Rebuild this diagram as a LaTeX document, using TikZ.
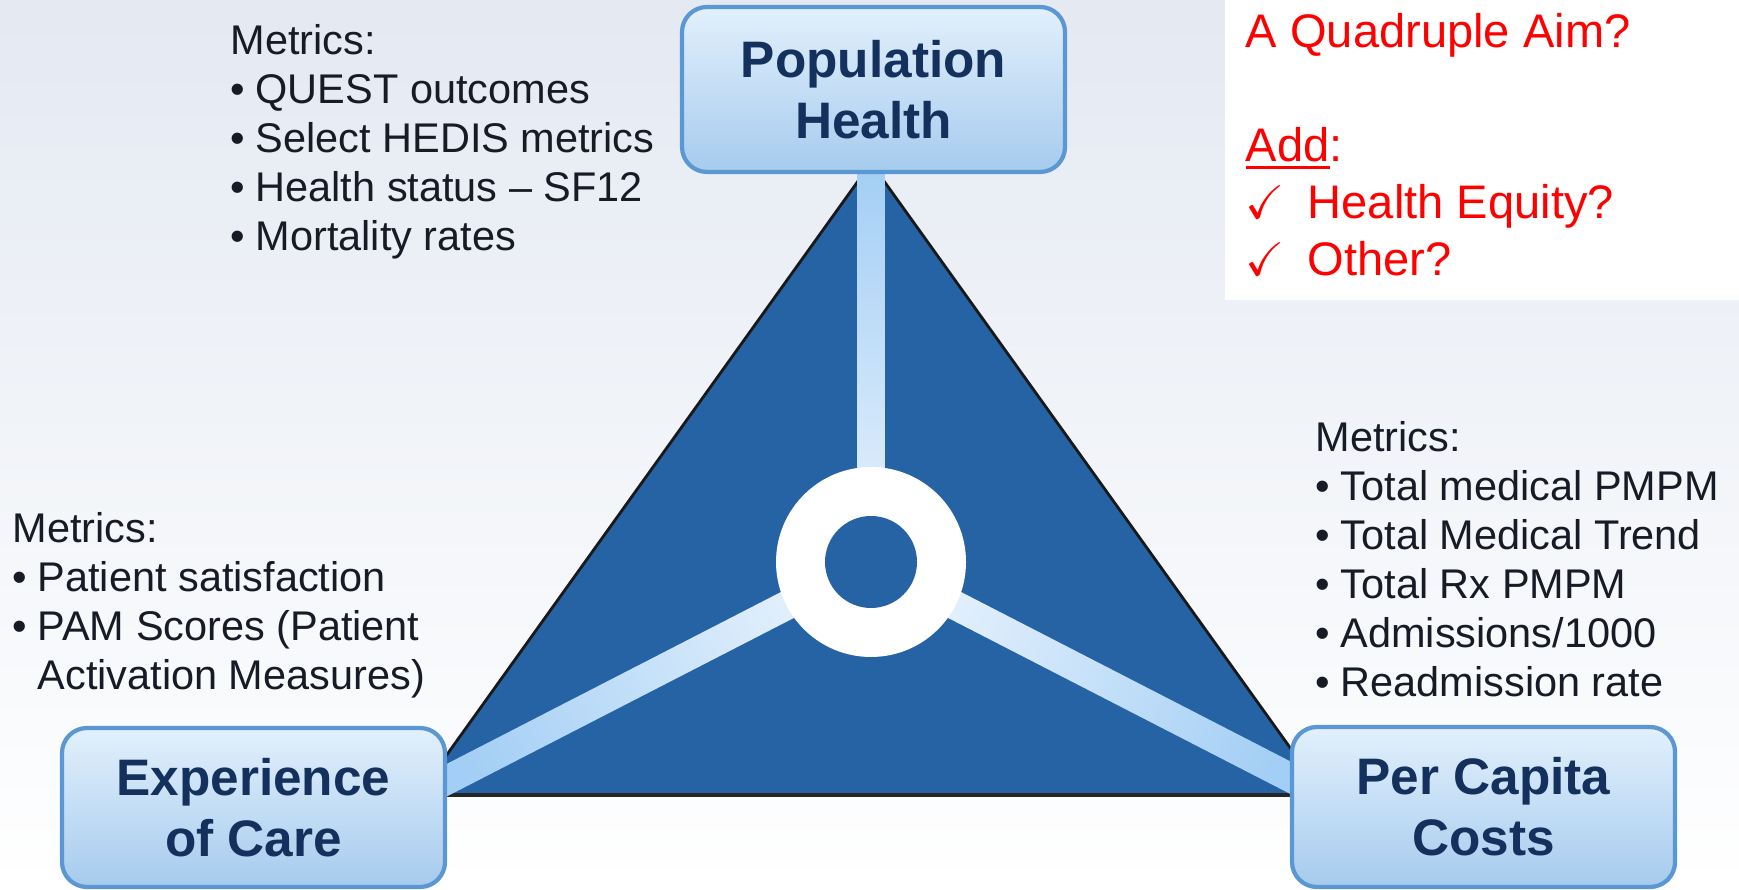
\documentclass[tikz,border=0pt]{standalone}
\usepackage{fontspec}
\setmainfont{Liberation Sans}
\usepackage{amssymb}
\usetikzlibrary{calc}

\definecolor{bgtop}{HTML}{E4E9F2}
\definecolor{triblue}{HTML}{2563A4}
\definecolor{spokeblue}{HTML}{A3CEF5}
\definecolor{boxtop}{HTML}{E2F0FC}
\definecolor{boxbottom}{HTML}{A6CBEE}
\definecolor{boxedge}{HTML}{5A97D3}
\definecolor{titlenavy}{HTML}{14305C}
\definecolor{metricink}{HTML}{171B26}
\definecolor{notered}{HTML}{FF0000}

\newcommand{\metitem}[1]{\makebox[0.25cm][l]{\textbullet}#1}
\newcommand{\tickitem}[1]{\makebox[0.62cm][l]{$\checkmark$}#1}
\newcommand{\noteuline}[1]{\setbox0\hbox{#1}\rlap{\rule[-2.1pt]{\wd0}{0.85pt}}\box0}

\begin{document}
\begin{tikzpicture}[aimbox/.style={shape = rectangle, rounded corners=0.25cm, draw=boxedge, line width=1.2pt, top color=boxtop, bottom color=boxbottom, text=titlenavy, font=\fontsize{14.6}{17.3}\selectfont\bfseries, align=center, minimum width=3.83cm, inner sep=0pt},
    metrics/.style={anchor=north west, inner sep=0pt, align=left, text=metricink, font=\fontsize{11.8}{13.95}\selectfont},
    spoke/.style={top color=spokeblue, bottom color=spokeblue!25!white}]
    \useasboundingbox (0, 0) rectangle (17.39, 8.90);
    \shade[top color=bgtop, bottom color=white] (0, 0) rectangle (17.39, 8.90);
    \fill[white] (12.25, 5.90) rectangle (17.39, 8.90);

    % triangle
    \coordinate (Apex) at (8.71, 7.27);
    \coordinate (LeftCorner) at (4.18, 0.95);
    \coordinate (RightCorner) at (13.24, 0.95);
    \coordinate (HubCentre) at (8.71, 3.28);
    \filldraw[fill=triblue, draw=black!90, line width=0.8pt] (Apex) -- (LeftCorner) -- (RightCorner) -- cycle;
    \draw[black!85, line width=1.4pt] (LeftCorner) -- (RightCorner);

    % spokes
    \shade[spoke, shading angle=0] ($(HubCentre)!0.135cm!90:(Apex)$) -- ($(Apex)!0.135cm!-90:(HubCentre)$) -- ($(Apex)!0.135cm!90:(HubCentre)$) -- ($(HubCentre)!0.135cm!-90:(Apex)$) -- cycle;
    \shade[spoke, shading angle=117] ($(HubCentre)!0.145cm!90:(LeftCorner)$) -- ($(LeftCorner)!0.145cm!-90:(HubCentre)$) -- ($(LeftCorner)!0.145cm!90:(HubCentre)$) -- ($(HubCentre)!0.145cm!-90:(LeftCorner)$) -- cycle;
    \shade[spoke, shading angle=-117] ($(HubCentre)!0.145cm!90:(RightCorner)$) -- ($(RightCorner)!0.145cm!-90:(HubCentre)$) -- ($(RightCorner)!0.145cm!90:(HubCentre)$) -- ($(HubCentre)!0.145cm!-90:(RightCorner)$) -- cycle;
    \node (Hub) [circle, fill=white, minimum size=1.9cm, inner sep=0pt] at (HubCentre) {};
    \node (HubCore) [circle, fill=triblue, minimum size=0.92cm, inner sep=0pt] at (HubCentre) {};

    % boxes
    \node (PopulationBox) [aimbox, minimum height=1.65cm] at (8.735, 8.005) {Population\\Health};
    \node (CareBox) [aimbox, minimum height=1.59cm] at (2.535, 0.825) {Experience\\of Care};
    \node (CostsBox) [aimbox, minimum height=1.60cm] at (14.835, 0.83) {Per Capita\\Costs};

    % metrics
    \node (PopulationMetrics) [metrics] at (2.30, 8.66) {Metrics:\\\metitem{QUEST outcomes}\\\metitem{Select HEDIS metrics}\\\metitem{Health status -- SF12}\\\metitem{Mortality rates}};
    \node (CareMetrics) [metrics] at (0.12, 3.78) {Metrics:\\\metitem{Patient satisfaction}\\\metitem{PAM Scores (Patient}\\\hspace*{0.25cm}Activation Measures)};
    \node (CostsMetrics) [metrics] at (13.15, 4.69) {Metrics:\\\metitem{Total medical PMPM}\\\metitem{Total Medical Trend}\\\metitem{Total Rx PMPM}\\\metitem{Admissions/1000}\\\metitem{Readmission rate}};

    % note
    \node (AimNote) [anchor=north west, inner sep=0pt, align=left, text=notered, font=\fontsize{13.4}{16.2}\selectfont] at (12.45, 8.775) {A Quadruple Aim?\\[16.2pt]\noteuline{Add}:\\\tickitem{Health Equity?}\\\tickitem{Other?}};
\end{tikzpicture}
\end{document}
